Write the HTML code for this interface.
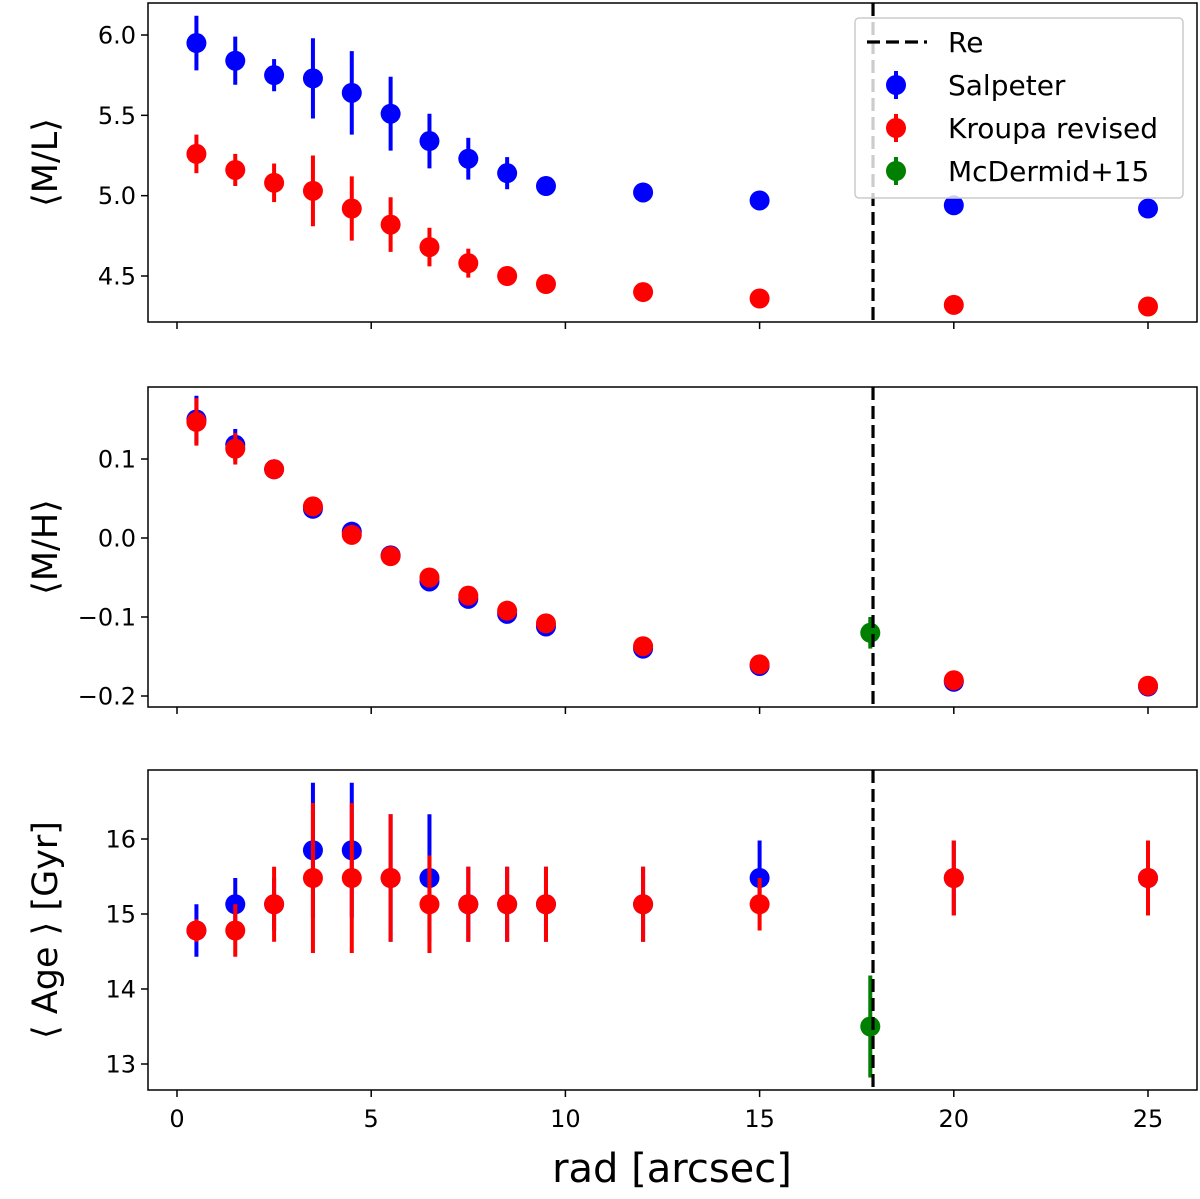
<!DOCTYPE html>
<html><head><meta charset="utf-8"><style>
body{margin:0;background:#fff}
svg text{font-family:"DejaVu Sans","Liberation Sans",sans-serif;fill:#000}
</style></head><body>
<svg id="chart" width="1200" height="1194" xmlns="http://www.w3.org/2000/svg"></svg>
<script>
const radii=[0.5,1.5,2.5,3.5,4.5,5.5,6.5,7.5,8.5,9.5,12,15,20,25];
const mlSalp=[5.95,5.84,5.75,5.73,5.64,5.51,5.34,5.23,5.14,5.06,5.02,4.97,4.94,4.92];
const mlSalpErr=[0.17,0.15,0.1,0.25,0.26,0.23,0.17,0.13,0.1,0.06,0.06,0.05,0.05,0.05];
const mlKrou=[5.26,5.16,5.08,5.03,4.92,4.82,4.68,4.58,4.50,4.45,4.40,4.36,4.32,4.31];
const mlKrouErr=[0.12,0.1,0.12,0.22,0.2,0.17,0.12,0.09,0.06,0.03,0.02,0.02,0.02,0.02];
const mhSalp=[0.15,0.118,0.087,0.037,0.008,-0.022,-0.055,-0.077,-0.096,-0.112,-0.14,-0.162,-0.182,-0.188];
const mhSalpErr=[0.03,0.02,0.005,0.005,0.008,0.005,0.005,0.005,0.005,0.005,0.005,0.005,0.005,0.005];
const mhKrou=[0.147,0.113,0.087,0.04,0.004,-0.023,-0.05,-0.073,-0.092,-0.108,-0.137,-0.16,-0.18,-0.187];
const mhKrouErr=[0.03,0.02,0.005,0.005,0.008,0.005,0.005,0.005,0.005,0.005,0.005,0.005,0.005,0.005];
const ageSalp=[14.78,15.13,15.13,15.85,15.85,15.48,15.48,15.13,15.13,15.13,15.13,15.48,15.48,15.48];
const ageSalpErr=[0.35,0.35,0.35,0.9,0.9,0.85,0.85,0.5,0.5,0.5,0.5,0.5,0.5,0.5];
const ageKrou=[14.78,14.78,15.13,15.48,15.48,15.48,15.13,15.13,15.13,15.13,15.13,15.13,15.48,15.48];
const ageKrouErr=[0.15,0.35,0.5,1.0,1.0,0.85,0.65,0.5,0.5,0.5,0.5,0.35,0.5,0.5];
const mcdX=[17.85];
const mcdMH=[-0.12];const mcdMHErr=[0.02];
const mcdAge=[13.5];const mcdAgeErr=[0.68];
const reX=17.92;
const xTicks=[0,5,10,15,20,25];
const mlTicks=[4.5,5.0,5.5,6.0];
const mhTicks=[-0.2,-0.1,0.0,0.1];
const ageTicks=[13,14,15,16];

const NS="http://www.w3.org/2000/svg";
const svg=document.getElementById('chart');
function el(t,a,p){const e=document.createElementNS(NS,t);for(const k in a)e.setAttribute(k,a[k]);(p||svg).appendChild(e);return e;}
const L=148,R=1197;
const sx=v=>177+v*38.84;
function panel(top,bot,y0v,y0p,y1v,y1p,ticks,fmt,label,name,showX){
  const sy=v=>y0p+(v-y0v)*(y1p-y0p)/(y1v-y0v);
  const g=el('g',{});
  
  ticks.forEach(t=>{const y=sy(t);el('line',{x1:L-7,x2:L,y1:y,y2:y,stroke:'#000','stroke-width':1.5},g);
    const tx=el('text',{x:L-12,y:y+8.5,'font-size':24,'text-anchor':'end'},g);tx.textContent=fmt(t);});
  xTicks.forEach(t=>{el('line',{x1:sx(t),x2:sx(t),y1:bot,y2:bot+7,stroke:'#000','stroke-width':1.5},g);
    if(showX){const tx=el('text',{x:sx(t),y:bot+37,'font-size':24,'text-anchor':'middle'},g);tx.textContent=t;}});
  const lb=el('text',{transform:`translate(57,${(top+bot)/2}) rotate(-90)`,'font-size':35,'text-anchor':'middle'},g);
  lb.textContent=label;
  return {g,sy};
}
function series(p,xs,ys,es,col,name){
  xs.forEach((x,i)=>{
    el('line',{x1:sx(x),x2:sx(x),y1:p.sy(ys[i]-es[i]),y2:p.sy(ys[i]+es[i]),stroke:col,'stroke-width':4},p.g);
    const c=el('circle',{cx:sx(x),cy:p.sy(ys[i]),r:10,fill:col},p.g);
    
  });
}
function frame(p,top,bot){
  el('line',{x1:sx(reX),x2:sx(reX),y1:top,y2:bot,stroke:'#000','stroke-width':3.2,'stroke-dasharray':'13,6'},p.g);
  el('rect',{x:L,y:top,width:R-L,height:bot-top,fill:'none',stroke:'#000','stroke-width':1.5},p.g);
}
const p1=panel(3,322,6.0,35,4.5,276,mlTicks,v=>v.toFixed(1),'⟨M/L⟩','ml-panel',false);
series(p1,radii,mlSalp,mlSalpErr,'#0000ff','salpeter');
series(p1,radii,mlKrou,mlKrouErr,'#ff0000','kroupa');
frame(p1,3,322);
const p2=panel(387,707,0.1,459,-0.2,696,mhTicks,v=>(v<0?'−':'')+Math.abs(v).toFixed(1),'⟨M/H⟩','mh-panel',false);
series(p2,radii,mhSalp,mhSalpErr,'#0000ff','salpeter');
series(p2,radii,mhKrou,mhKrouErr,'#ff0000','kroupa');
series(p2,mcdX,mcdMH,mcdMHErr,'#008000','mcdermid');
frame(p2,387,707);
const p3=panel(770,1090,16,839,13,1064,ageTicks,v=>v,'⟨ Age ⟩ [Gyr]','age-panel',true);
series(p3,radii,ageSalp,ageSalpErr,'#0000ff','salpeter');
series(p3,radii,ageKrou,ageKrouErr,'#ff0000','kroupa');
series(p3,mcdX,mcdAge,mcdAgeErr,'#008000','mcdermid');
frame(p3,770,1090);
const xt=el('text',{x:672,y:1182,'font-size':40,'text-anchor':'middle'});xt.textContent='rad [arcsec]';

const lg=el('g',{});

el('rect',{x:855,y:18,width:328,height:180,rx:4,fill:'#fff','fill-opacity':0.8,stroke:'#ccc','stroke-width':1.5},lg);
const items=[['Re','dash',42],['Salpeter','#0000ff',85],['Kroupa revised','#ff0000',128],['McDermid+15','#008000',171]];
items.forEach(([t,c,y])=>{
  const ig=el('g',{},lg);
  
  if(c==='dash')el('line',{x1:867,x2:927,y1:y,y2:y,stroke:'#000','stroke-width':3.2,'stroke-dasharray':'13,6'},ig);
  else{el('line',{x1:896,x2:896,y1:y-14,y2:y+14,stroke:c,'stroke-width':4},ig);el('circle',{cx:896,cy:y,r:10,fill:c},ig);}
  const tx=el('text',{x:948,y:y+10,'font-size':28},ig);tx.textContent=t;
});
</script>
</body></html>
